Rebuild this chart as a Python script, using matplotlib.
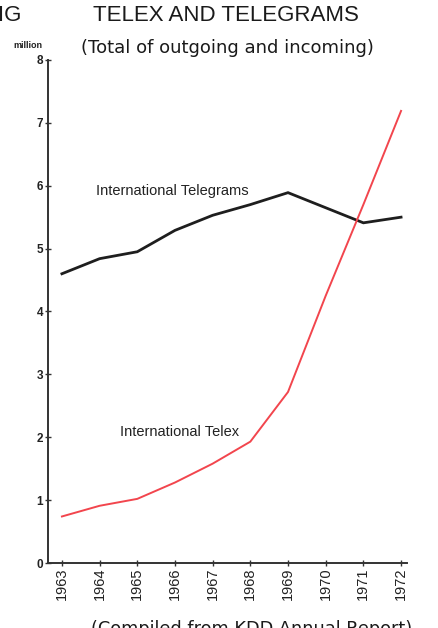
import matplotlib.pyplot as plt
import numpy as np

# data (million)
years = [1963, 1964, 1965, 1966, 1967, 1968, 1969, 1970, 1971, 1972]
telegrams = [4.60, 4.84, 4.95, 5.29, 5.53, 5.70, 5.89, 5.65, 5.41, 5.50]
telex = [0.74, 0.91, 1.02, 1.28, 1.58, 1.93, 2.72, 4.25, 5.70, 7.19]
yticks = [0, 1, 2, 3, 4, 5, 6, 7, 8]

narrow = ['Liberation Sans Narrow', 'Liberation Sans', 'DejaVu Sans']

fig = plt.figure(figsize=(4.39, 6.28), dpi=100)
ax = fig.add_axes([0.1093, 0.1035, 0.818, 0.801])

ax.plot(years, telegrams, color='#1e1e1e', lw=2.0, solid_joinstyle='miter')
ax.plot(years, telex, color='#f2454d', lw=1.4)

ax.set_xlim(1962.63, 1972.16)
ax.set_ylim(0, 8)
ax.set_xticks(years)
ax.set_xticklabels([str(y) for y in years], rotation=90, fontsize=10.5,
                   family=narrow, color='#222222')
ax.set_yticks(yticks)
ax.set_yticklabels([str(v) for v in yticks], fontsize=8.5, family=narrow,
                   color='#222222', weight='bold')
ax.tick_params(axis='both', direction='inout', length=5, width=1,
               colors='#333333', pad=1)
ax.tick_params(axis='x', labelcolor='#222222')
ax.tick_params(axis='y', labelcolor='#222222')

for s in ['top', 'right']:
    ax.spines[s].set_visible(False)
for s in ['left', 'bottom']:
    ax.spines[s].set_linewidth(1.4)
    ax.spines[s].set_color('#333333')

ax.text(1963.9, 5.91, 'International Telegrams', fontsize=10.5, family=narrow,
        va='center', ha='left', color='#222222')
ax.text(1964.54, 2.08, 'International Telex', fontsize=10.5, family=narrow,
        va='center', ha='left', color='#222222')

fig.text(0.515, 0.975, 'TELEX AND TELEGRAMS', fontsize=16, family=narrow,
         ha='center', va='center', color='#1a1a1a')
fig.text(0.518, 0.923, '(Total of outgoing and incoming)', fontsize=13,
         ha='center', va='center', color='#1a1a1a')
fig.text(0.097, 0.928, 'million', fontsize=6.5, family=narrow,
         ha='right', va='center', color='#222222', weight='bold')
fig.text(-0.005, 0.975, 'IG', fontsize=16, family=narrow,
         ha='left', va='center', color='#1a1a1a')
fig.text(0.574, -0.002, '(Compiled from KDD Annual Report)', fontsize=12.8,
         ha='center', va='center', color='#1a1a1a')

fig.savefig('out.png', dpi=100)
